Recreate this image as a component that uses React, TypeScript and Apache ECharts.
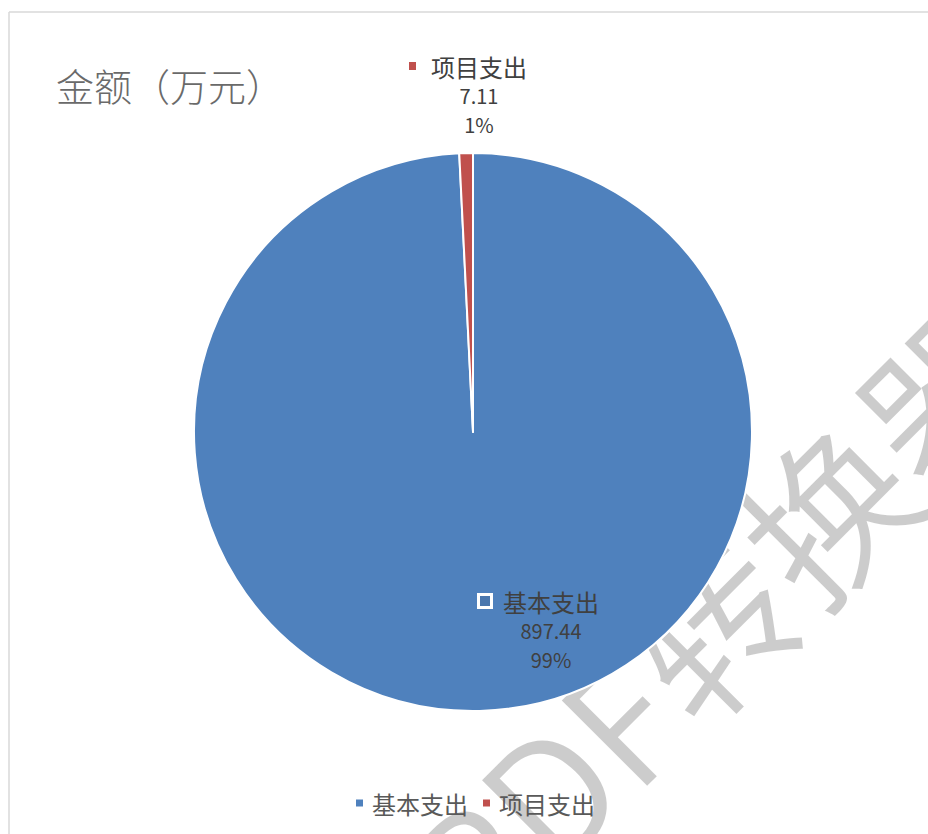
import React, { useEffect, useRef } from "react";
import * as echarts from "echarts";

const categories = ["基本支出", "项目支出"];
const amounts = [897.44, 7.11];
const colors = ["#4F81BD", "#C0504D"];
const titleText = "金额（万元）";
const watermarkText = "PDF转换器";

const FONT = "'Noto Sans CJK SC', 'Noto Sans', sans-serif";

export default function App() {
  const ref = useRef<HTMLDivElement>(null);

  useEffect(() => {
    if (!ref.current) return;
    const chart = echarts.init(ref.current, null, { renderer: "svg" });

    const data = categories.map((name, i) => ({
      name,
      value: amounts[i],
      itemStyle: { color: colors[i] },
    }));

    const option: any = {
      animation: false,
      backgroundColor: "#ffffff",
      title: {
        text: titleText,
        left: 56,
        top: 65,
        padding: 0,
        textStyle: {
          fontFamily: FONT,
          fontSize: 38,
          fontWeight: 300,
          color: "#6a6a6a",
        },
      },
      legend: {
        data: categories,
        left: 349,
        top: 786,
        icon: "rect",
        itemWidth: 9,
        itemHeight: 9,
        itemGap: 13,
        textStyle: {
          fontFamily: FONT,
          fontSize: 24,
          color: "#595959",
          padding: [0, 0, 0, 3],
        },
      },
      graphic: [
        {
          type: "line",
          shape: { x1: 9, y1: 12, x2: 928, y2: 12 },
          style: { stroke: "#d9d9d9", lineWidth: 1.5 },
          z: -10,
        },
        {
          type: "line",
          shape: { x1: 9, y1: 12, x2: 9, y2: 834 },
          style: { stroke: "#d9d9d9", lineWidth: 1.5 },
          z: -10,
        },
        {
          type: "text",
          x: 432,
          y: 900,
          rotation: Math.PI / 4,
          z: -5,
          silent: true,
          style: {
            text: watermarkText,
            fontFamily: FONT,
            fontSize: 165,
            fontWeight: 350,
            fill: "rgba(0,0,0,0.2)",
            align: "left",
            verticalAlign: "middle",
          },
        },
      ],
      series: [
        {
          type: "pie",
          center: [473, 432],
          radius: 279,
          startAngle: 90,
          clockwise: true,
          avoidLabelOverlap: false,
          percentPrecision: 0,
          itemStyle: { borderColor: "#ffffff", borderWidth: 2 },
          emphasis: { disabled: true },
          labelLine: { show: false },
          label: {
            show: true,
            position: "outside",
            formatter: (p: any) =>
              p.dataIndex === 0
                ? `{k0|}{n0|${p.name}}{s0|}\n{v|${p.value}}\n{v|${p.percent}%}`
                : `{k1|}{n1|${p.name}}{s1|}\n{v|${p.value}}\n{v|${p.percent}%}`,
            rich: {
              k0: {
                width: 10,
                height: 10,
                backgroundColor: "#4A77AE",
                borderColor: "#ffffff",
                borderWidth: 3,
                lineHeight: 29,
              },
              n0: {
                fontFamily: FONT,
                fontSize: 24,
                color: "#404040",
                padding: [0, 0, 0, 13],
                lineHeight: 29,
              },
              s0: { width: 23, lineHeight: 29 },
              k1: {
                width: 7,
                height: 8,
                backgroundColor: "#C0504D",
                lineHeight: 29,
              },
              n1: {
                fontFamily: FONT,
                fontSize: 24,
                color: "#404040",
                padding: [0, 0, 0, 15],
                lineHeight: 29,
              },
              s1: { width: 22, lineHeight: 29 },
              v: {
                fontFamily: FONT,
                fontSize: 20,
                color: "#404040",
                lineHeight: 29,
              },
            },
          },
          labelLayout: (params: any) =>
            params.dataIndex === 0
              ? { x: 551, y: 630, align: "center", verticalAlign: "middle" }
              : { x: 479, y: 95, align: "center", verticalAlign: "middle" },
          data,
        },
      ],
    };

    chart.setOption(option);
    return () => chart.dispose();
  }, []);

  return (
    <div
      ref={ref}
      style={{ position: "fixed", left: 0, top: 0, width: 928, height: 834 }}
    />
  );
}
